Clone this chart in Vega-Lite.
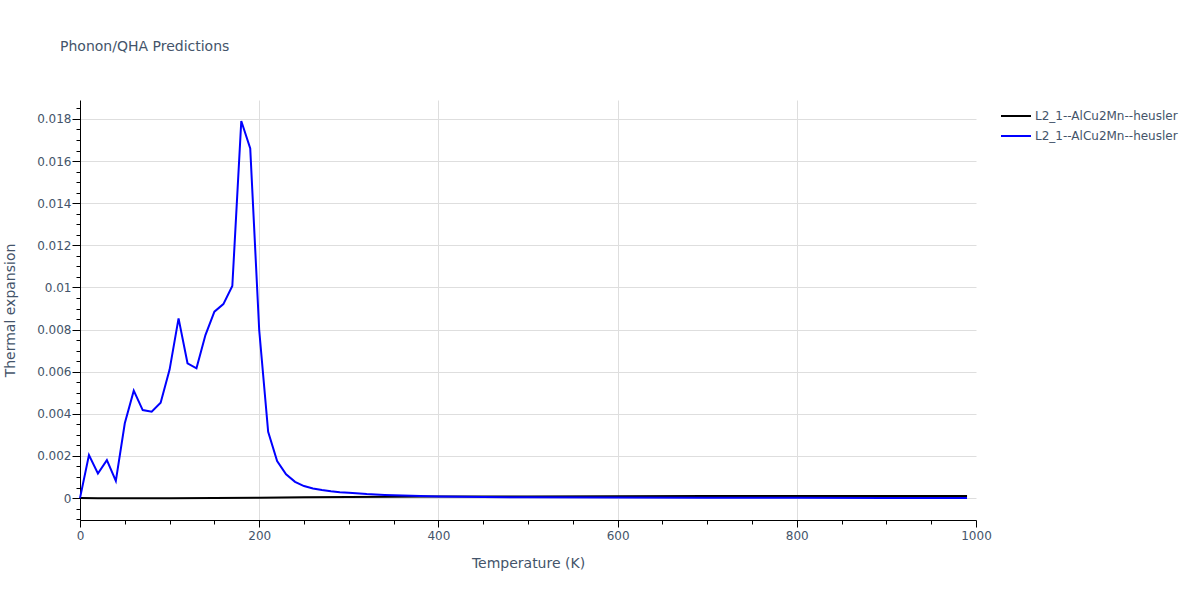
{
  "$schema": "https://vega.github.io/schema/vega-lite/v6.json",
  "width": 896,
  "height": 420,
  "autosize": {"type": "none"},
  "padding": {"left": 80, "top": 100, "right": 224, "bottom": 80},
  "background": "white",
  "config": {
    "font": "DejaVu Sans",
    "view": {"stroke": null},
    "axis": {
      "domainColor": "#000000",
      "domainWidth": 1,
      "tickColor": "#000000",
      "gridColor": "#dedede",
      "gridWidth": 1,
      "labelColor": "#44546a",
      "titleColor": "#44546a",
      "labelFontSize": 12,
      "titleFontSize": 14,
      "titleFontWeight": "normal",
      "labelFont": "DejaVu Sans",
      "titleFont": "DejaVu Sans"
    }
  },
  "title": {
    "text": "Phonon/QHA Predictions",
    "anchor": "start",
    "frame": "group",
    "dx": -20,
    "offset": 35,
    "baseline": "alphabetic",
    "fontSize": 14,
    "fontWeight": "normal",
    "color": "#44546a",
    "font": "DejaVu Sans"
  },
  "data": {
    "values": [
      {"T": 0, "v": 0, "s": "a"},
      {"T": 20, "v": -0.000005, "s": "a"},
      {"T": 50, "v": -0.00001, "s": "a"},
      {"T": 80, "v": -0.000012, "s": "a"},
      {"T": 100, "v": -0.00001, "s": "a"},
      {"T": 150, "v": 0.000005, "s": "a"},
      {"T": 200, "v": 0.00002, "s": "a"},
      {"T": 250, "v": 0.000035, "s": "a"},
      {"T": 300, "v": 0.00005, "s": "a"},
      {"T": 400, "v": 0.00007, "s": "a"},
      {"T": 500, "v": 0.00008, "s": "a"},
      {"T": 600, "v": 0.00009, "s": "a"},
      {"T": 700, "v": 0.000095, "s": "a"},
      {"T": 800, "v": 0.0001, "s": "a"},
      {"T": 900, "v": 0.0001, "s": "a"},
      {"T": 990, "v": 0.0001, "s": "a"},
      {"T": 0, "v": 0, "s": "b"},
      {"T": 10, "v": 0.00204, "s": "b"},
      {"T": 20, "v": 0.00117, "s": "b"},
      {"T": 30, "v": 0.0018, "s": "b"},
      {"T": 40, "v": 0.00082, "s": "b"},
      {"T": 50, "v": 0.00355, "s": "b"},
      {"T": 60, "v": 0.0051, "s": "b"},
      {"T": 70, "v": 0.00418, "s": "b"},
      {"T": 80, "v": 0.0041, "s": "b"},
      {"T": 90, "v": 0.00453, "s": "b"},
      {"T": 100, "v": 0.0061, "s": "b"},
      {"T": 110, "v": 0.00853, "s": "b"},
      {"T": 120, "v": 0.0064, "s": "b"},
      {"T": 130, "v": 0.00616, "s": "b"},
      {"T": 140, "v": 0.00774, "s": "b"},
      {"T": 150, "v": 0.00885, "s": "b"},
      {"T": 160, "v": 0.00921, "s": "b"},
      {"T": 170, "v": 0.01007, "s": "b"},
      {"T": 180, "v": 0.0179, "s": "b"},
      {"T": 190, "v": 0.0166, "s": "b"},
      {"T": 200, "v": 0.00798, "s": "b"},
      {"T": 210, "v": 0.00315, "s": "b"},
      {"T": 220, "v": 0.00176, "s": "b"},
      {"T": 230, "v": 0.00113, "s": "b"},
      {"T": 240, "v": 0.00077, "s": "b"},
      {"T": 250, "v": 0.00057, "s": "b"},
      {"T": 260, "v": 0.00046, "s": "b"},
      {"T": 270, "v": 0.00038, "s": "b"},
      {"T": 280, "v": 0.00032, "s": "b"},
      {"T": 290, "v": 0.00028, "s": "b"},
      {"T": 300, "v": 0.00025, "s": "b"},
      {"T": 320, "v": 0.00019, "s": "b"},
      {"T": 340, "v": 0.00015, "s": "b"},
      {"T": 360, "v": 0.00012, "s": "b"},
      {"T": 380, "v": 0.0001, "s": "b"},
      {"T": 400, "v": 0.00008, "s": "b"},
      {"T": 450, "v": 0.00005, "s": "b"},
      {"T": 500, "v": 0.00004, "s": "b"},
      {"T": 600, "v": 0.00003, "s": "b"},
      {"T": 700, "v": 0.00002, "s": "b"},
      {"T": 800, "v": 0.00002, "s": "b"},
      {"T": 900, "v": 0.00001, "s": "b"},
      {"T": 990, "v": 0.00001, "s": "b"}
    ]
  },
  "mark": {"type": "line", "strokeWidth": 2, "interpolate": "linear"},
  "encoding": {
    "x": {
      "field": "T",
      "type": "quantitative",
      "scale": {"domain": [0, 1000], "nice": false, "zero": false},
      "axis": {
        "title": "Temperature (K)",
        "values": [0, 50, 100, 150, 200, 250, 300, 350, 400, 450, 500, 550, 600, 650, 700, 750, 800, 850, 900, 950, 1000],
        "labelExpr": "datum.value % 200 === 0 ? format(datum.value, 'd') : ''",
        "tickSize": {"condition": {"test": "datum.value % 200 === 0", "value": 7}, "value": 4},
        "gridOpacity": {"condition": {"test": "datum.value % 200 === 0 && datum.value > 0 && datum.value < 1000", "value": 1}, "value": 0},
        "labelPadding": 3,
        "labelFlush": false,
        "labelOverlap": false,
        "titleX": 448,
        "titleY": 43,
        "titleBaseline": "middle",
        "titleAnchor": "middle"
      }
    },
    "y": {
      "field": "v",
      "type": "quantitative",
      "scale": {"domain": [-0.00104, 0.0189], "nice": false, "zero": false},
      "axis": {
        "title": "Thermal expansion",
        "values": [-0.001, -0.0005, 0, 0.0005, 0.001, 0.0015, 0.002, 0.0025, 0.003, 0.0035, 0.004, 0.0045, 0.005, 0.0055, 0.006, 0.0065, 0.007, 0.0075, 0.008, 0.0085, 0.009, 0.0095, 0.01, 0.0105, 0.011, 0.0115, 0.012, 0.0125, 0.013, 0.0135, 0.014, 0.0145, 0.015, 0.0155, 0.016, 0.0165, 0.017, 0.0175, 0.018, 0.0185],
        "labelExpr": "abs(datum.value / 0.002 - round(datum.value / 0.002)) < 0.01 ? format(datum.value, '~g') : ''",
        "tickSize": {"condition": {"test": "abs(datum.value / 0.002 - round(datum.value / 0.002)) < 0.01", "value": 8}, "value": 4},
        "gridOpacity": {"condition": {"test": "abs(datum.value / 0.002 - round(datum.value / 0.002)) < 0.01", "value": 1}, "value": 0},
        "labelPadding": 1,
        "labelFlush": false,
        "labelOverlap": false,
        "titleX": -70,
        "titleY": 210,
        "titleAngle": -90,
        "titleBaseline": "middle",
        "titleAnchor": "middle"
      }
    },
    "color": {
      "field": "s",
      "type": "nominal",
      "scale": {"domain": ["a", "b"], "range": ["#000000", "#0000ff"]},
      "legend": {
        "title": null,
        "orient": "none",
        "legendX": 925,
        "legendY": 5,
        "labelExpr": "'L2_1--AlCu2Mn--heusler'",
        "symbolType": "M-1.5,0L1.5,0",
        "symbolSize": 400,
        "symbolStrokeWidth": 2,
        "labelOffset": 8,
        "labelFontSize": 12,
        "labelColor": "#44546a",
        "labelFont": "DejaVu Sans",
        "rowPadding": 3,
        "padding": 0
      }
    },
    "order": {"field": "T", "type": "quantitative"}
  }
}
